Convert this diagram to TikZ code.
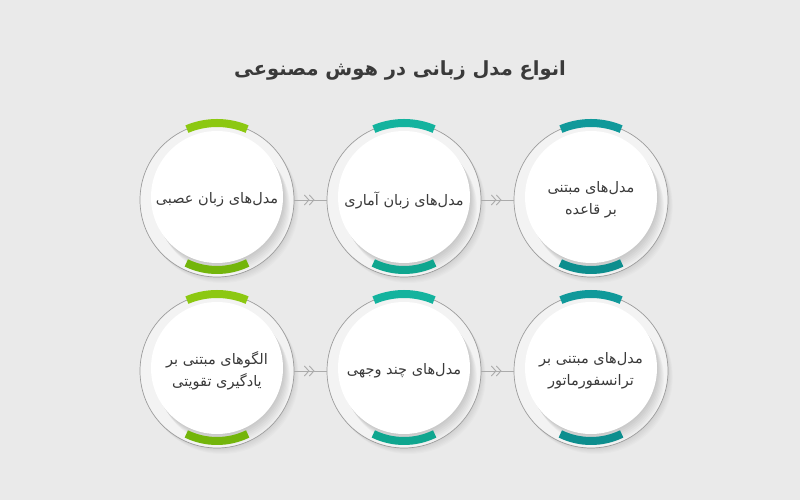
\documentclass[tikz,border=0pt]{standalone}
\usepackage{fontspec}
\newfontfamily\arabicfont[Script=Arabic]{DejaVu Sans}
\TeXXeTstate=1
\usetikzlibrary{decorations.markings,arrows.meta,calc}
\definecolor{bgc}{HTML}{EAEAEA}
\definecolor{ringfill}{HTML}{F3F3F3}
\definecolor{ringline}{HTML}{9C9C9C}
\definecolor{txtc}{HTML}{3A3A3A}
\definecolor{conn}{HTML}{ABABAB}
\definecolor{gA}{HTML}{8CC811}
\definecolor{gB}{HTML}{73B50B}
\definecolor{tA}{HTML}{14B39E}
\definecolor{tB}{HTML}{0FA68F}
\definecolor{dA}{HTML}{10999A}
\definecolor{dB}{HTML}{0D8E8E}
\tikzset{
  bubble/.style={circle, minimum size=154pt, inner sep=0pt, text=txtc,
    font=\arabicfont\fontsize{14.5}{22}\selectfont, align=center},
  ringarc/.style={line width=8pt},
  connector/.style={draw=conn, line width=0.8pt,
    decoration={markings,
      mark=at position 0.5 with {\begin{scope}[xshift=-1pt]\arrow{Straight Barb[length=4.5pt,width=10pt,line width=0.9pt]}\end{scope}},
      mark=at position 0.5 with {\begin{scope}[xshift=4pt]\arrow{Straight Barb[length=4.5pt,width=10pt,line width=0.9pt]}\end{scope}}},
    postaction={decorate}},
}
\newcommand\mybubble[5]{%
  % outer soft shadow
  \foreach \k in {1,...,6} {
    \fill[black, opacity=0.016] ($(#1)+(0.8*\k pt,-1.0*\k pt)$) circle[radius=77pt];
  }
  \fill[ringfill] (#1) circle[radius=77pt];
  \begin{scope}
    \clip (#1) circle[radius=77pt];
    \foreach \k in {1,...,7} {
      \fill[black, opacity=0.022] ($(#1)+(1.0*\k pt,3pt-1.5*\k pt)$) circle[radius=66pt];
    }
  \end{scope}
  \draw[ringline, line width=0.7pt] (#1) circle[radius=77pt];
  \fill[white] ($(#1)+(0,3pt)$) circle[radius=66pt];
  \draw[ringarc, #3] ($(#1)+(67:77pt)$) arc[start angle=67, end angle=113, radius=77pt];
  \draw[ringarc, #4] ($(#1)+(244:70pt)$) arc[start angle=244, end angle=296, radius=70pt];
  \node[bubble] (#2) at (#1) {#5};
}
\begin{document}
\begin{tikzpicture}[x=1pt,y=1pt]
\useasboundingbox (0,0) rectangle (800,500);
\fill[bgc] (0,0) rectangle (800,500);
\node[text=txtc, font=\arabicfont\bfseries\fontsize{19.5}{23}\selectfont] (title) at (400,430)
  {\beginR انواع مدل زبانی در هوش مصنوعی\endR};
\mybubble{217,300}{c1}{gA}{gB}{\beginR مدل‌های زبان عصبی\endR}
\mybubble{404,300}{c2}{tA}{tB}{\beginR مدل‌های زبان آماری\endR}
\mybubble{591,300}{c3}{dA}{dB}{\beginR مدل‌های مبتنی\endR\\\beginR بر قاعده\endR}
\mybubble{217,129}{c4}{gA}{gB}{\beginR الگوهای مبتنی بر\endR\\\beginR یادگیری تقویتی\endR}
\mybubble{404,129}{c5}{tA}{tB}{\beginR مدل‌های چند وجهی\endR}
\mybubble{591,129}{c6}{dA}{dB}{\beginR مدل‌های مبتنی بر\endR\\\beginR ترانسفورماتور\endR}
\draw[connector] (c1.east) -- (c2.west);
\draw[connector] (c2.east) -- (c3.west);
\draw[connector] (c4.east) -- (c5.west);
\draw[connector] (c5.east) -- (c6.west);
\end{tikzpicture}
\end{document}
